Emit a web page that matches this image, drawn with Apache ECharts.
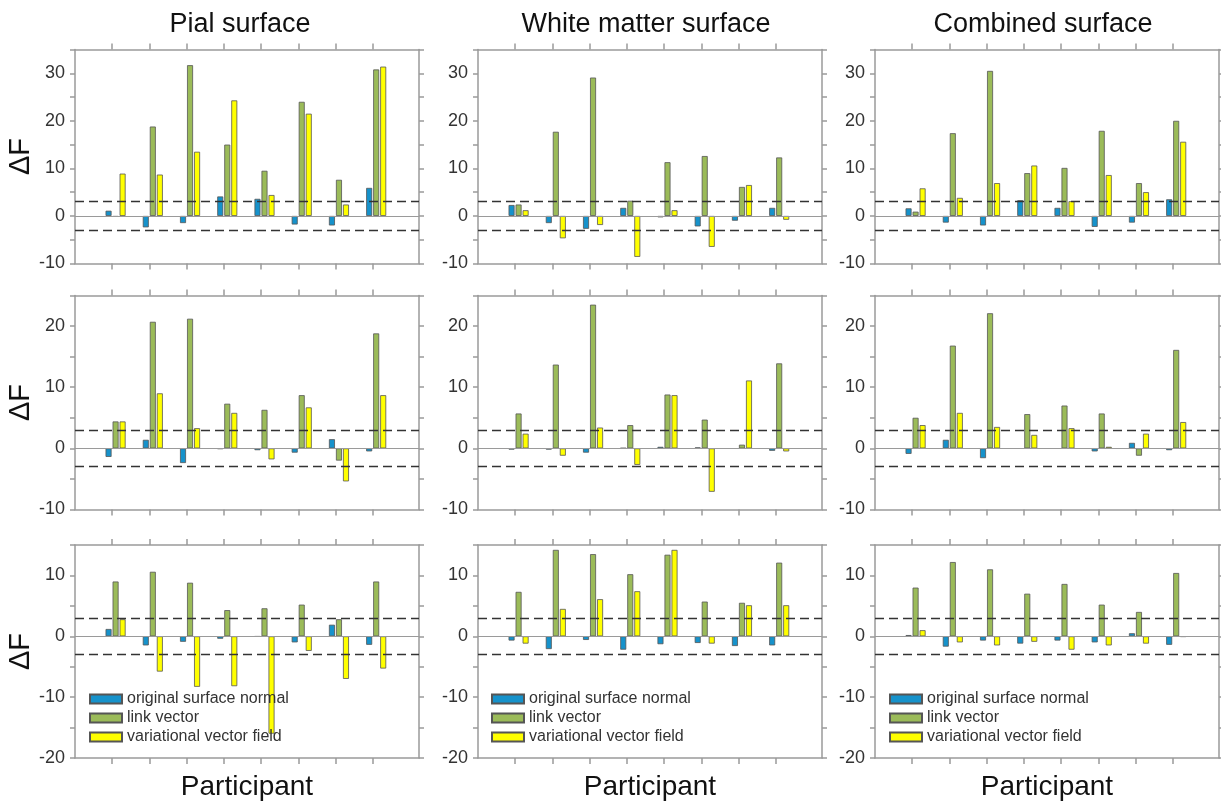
<!DOCTYPE html>
<html>
<head>
<meta charset="utf-8">
<script src="https://cdn.jsdelivr.net/npm/echarts@6.0.0/dist/echarts.min.js"></script>
<style>
  html, body { margin: 0; padding: 0; background: #fff; }
  #chart { width: 1221px; height: 802px; }
</style>
</head>
<body>
<div id="chart"></div>
<script>
// data
const participants = [1, 2, 3, 4, 5, 6, 7, 8];
const surfaces = ['Pial surface', 'White matter surface', 'Combined surface'];
const seriesNames = ['original surface normal', 'link vector', 'variational vector field'];
const thresholds = [-3, 3];
const yMin = [-10, -10, -20];
const yMax = [35, 25, 15];
const yTickLabels = [[-10, 0, 10, 20, 30], [-10, 0, 10, 20], [-20, -10, 0, 10]];

// row 1
const pial1Normal  = [1.1, -2.4, -1.5, 4.1, 3.6, -1.8, -2.0, 5.9];
const pial1Link    = [-0.2, 18.8, 31.7, 15.0, 9.5, 24.0, 7.6, 30.8];
const pial1Field   = [8.9, 8.7, 13.5, 24.3, 4.4, 21.5, 2.4, 31.4];
const white1Normal = [2.3, -1.5, -2.7, 1.7, -0.3, -2.2, -1.0, 1.7];
const white1Link   = [2.4, 17.7, 29.1, 3.2, 11.3, 12.6, 6.1, 12.3];
const white1Field  = [1.2, -4.7, -1.9, -8.6, 1.2, -6.5, 6.5, -0.8];
const comb1Normal  = [1.6, -1.4, -2.0, 3.3, 1.7, -2.3, -1.4, 3.5];
const comb1Link    = [0.9, 17.4, 30.5, 9.0, 10.1, 17.9, 6.9, 20.0];
const comb1Field   = [5.8, 3.8, 6.9, 10.6, 3.1, 8.6, 5.0, 15.6];
// row 2
const pial2Normal  = [-1.4, 1.4, -2.4, -0.1, -0.3, -0.7, 1.5, -0.5];
const pial2Link    = [4.4, 20.7, 21.2, 7.3, 6.3, 8.7, -2.0, 18.8];
const pial2Field   = [4.4, 9.0, 3.3, 5.8, -1.8, 6.7, -5.4, 8.7];
const white2Normal = [-0.2, -0.2, -0.7, 0.05, 0.25, 0.15, -0.05, -0.4];
const white2Link   = [5.7, 13.7, 23.5, 3.8, 8.8, 4.7, 0.6, 13.9];
const white2Field  = [2.4, -1.2, 3.4, -2.7, 8.7, -7.1, 11.1, -0.5];
const comb2Normal  = [-0.9, 1.4, -1.6, -0.05, -0.05, -0.5, 0.9, -0.3];
const comb2Link    = [5.0, 16.8, 22.1, 5.6, 7.0, 5.7, -1.2, 16.1];
const comb2Field   = [3.8, 5.8, 3.5, 2.2, 3.3, 0.25, 2.4, 4.3];
// row 3
const pial3Normal  = [1.2, -1.5, -0.9, -0.4, -0.05, -1.0, 1.9, -1.4];
const pial3Link    = [9.0, 10.6, 8.8, 4.3, 4.6, 5.2, 2.8, 9.0];
const pial3Field   = [2.8, -5.8, -8.3, -8.2, -16.0, -2.4, -7.0, -5.3];
const white3Normal = [-0.7, -2.1, -0.6, -2.2, -1.3, -1.1, -1.6, -1.5];
const white3Link   = [7.3, 14.2, 13.5, 10.2, 13.4, 5.7, 5.5, 12.1];
const white3Field  = [-1.2, 4.5, 6.1, 7.4, 14.2, -1.2, 5.1, 5.1];
const comb3Normal  = [0.2, -1.7, -0.7, -1.2, -0.7, -1.0, 0.5, -1.4];
const comb3Link    = [8.0, 12.2, 11.0, 7.0, 8.6, 5.2, 4.0, 10.4];
const comb3Field   = [1.0, -1.0, -1.5, -0.9, -2.2, -1.5, -1.2, -0.1];

const panels = [
  [[pial1Normal, pial1Link, pial1Field], [white1Normal, white1Link, white1Field], [comb1Normal, comb1Link, comb1Field]],
  [[pial2Normal, pial2Link, pial2Field], [white2Normal, white2Link, white2Field], [comb2Normal, comb2Link, comb2Field]],
  [[pial3Normal, pial3Link, pial3Field], [white3Normal, white3Link, white3Field], [comb3Normal, comb3Link, comb3Field]]
];

// layout
const font = "'Liberation Sans', Arial, sans-serif";
const colors = ['#1692CB', '#9BBB59', '#FFFF00'];
const colLeft = [75, 478, 875];
const rowTop = [49.5, 295.5, 545];
const gridW = 344, gridH = 214;
const titleX = [240, 646, 1043];
const legendLeft = [89, 491, 889];
const boxLine = { color: '#9a9a9a', width: 1.5 };

const grid = [], xAxis = [], yAxis = [], series = [];

for (let r = 0; r < 3; r++) {
  for (let c = 0; c < 3; c++) {
    const gi = grid.length;
    grid.push({ left: colLeft[c], top: rowTop[r], width: gridW, height: gridH });

    const tickAxis = (pos) => ({
      gridIndex: gi, type: 'value', position: pos, min: 0, max: 9.24,
      axisLine: { show: true, onZero: false, lineStyle: boxLine },
      axisTick: { show: true, customValues: participants, length: 6, lineStyle: boxLine },
      axisLabel: { show: false },
      splitLine: { show: false }
    });
    const bottom = tickAxis('bottom');
    if (r === 2) {
      bottom.name = 'Participant';
      bottom.nameLocation = 'middle';
      bottom.nameGap = 15;
      bottom.nameTextStyle = { fontSize: 28, color: '#111', fontFamily: font, verticalAlign: 'top' };
    }
    xAxis.push(bottom, tickAxis('top'));
    // hidden axis carrying the bars, shifted a little like the original
    xAxis.push({ gridIndex: gi, type: 'value', min: -0.09, max: 9.15, show: false });

    const valAxis = (pos) => ({
      gridIndex: gi, type: 'value', position: pos, min: yMin[r], max: yMax[r], interval: 5,
      axisLine: { show: true, onZero: false, lineStyle: boxLine },
      axisTick: { show: true, inside: false, length: 5, lineStyle: boxLine },
      axisLabel: pos === 'left'
        ? { show: true, customValues: yTickLabels[r], fontSize: 18, color: '#333', fontFamily: font, margin: 10 }
        : { show: false },
      splitLine: { show: false }
    });
    const left = valAxis('left');
    if (c === 0) {
      left.name = 'ΔF';
      left.nameLocation = 'middle';
      left.nameGap = 27;
      left.nameTextStyle = { fontSize: 29, color: '#111', fontFamily: font };
    }
    yAxis.push(left, valAxis('right'));

    panels[r][c].forEach((vals, k) => {
      const s = {
        name: seriesNames[k],
        type: 'bar',
        xAxisIndex: gi * 3 + 2,
        yAxisIndex: gi * 2,
        barWidth: 6,
        barGap: '17%',
        itemStyle: { color: colors[k], borderColor: '#555', borderWidth: 0.8 },
        data: participants.map((p, i) => [p, vals[i]])
      };
      if (k === 0) {
        s.markLine = {
          silent: true, symbol: 'none', label: { show: false }, animation: false,
          data: [{ yAxis: 0, lineStyle: { color: '#9a9a9a', type: 'solid', width: 1 } }]
            .concat(thresholds.map(t => ({ yAxis: t, lineStyle: { color: '#333', type: [9, 5], width: 1.4 } })))
        };
      }
      series.push(s);
    });
  }
}

const chart = echarts.init(document.getElementById('chart'));
chart.setOption({
  animation: false,
  backgroundColor: '#fff',
  textStyle: { fontFamily: font },
  graphic: surfaces.map((s, c) => ({
    type: 'text', x: titleX[c], y: 11,
    style: { text: s, fontSize: 27, fill: '#111', fontFamily: font, align: 'center', verticalAlign: 'top' }
  })),
  legend: legendLeft.map(x => ({
    data: seriesNames, orient: 'vertical', left: x, top: 691, padding: 0,
    itemWidth: 32, itemHeight: 9, itemGap: 3, icon: 'rect', selectedMode: false,
    textStyle: { fontSize: 16, color: '#333', fontFamily: font }
  })),
  grid: grid,
  xAxis: xAxis,
  yAxis: yAxis,
  series: series
});
</script>
</body>
</html>
